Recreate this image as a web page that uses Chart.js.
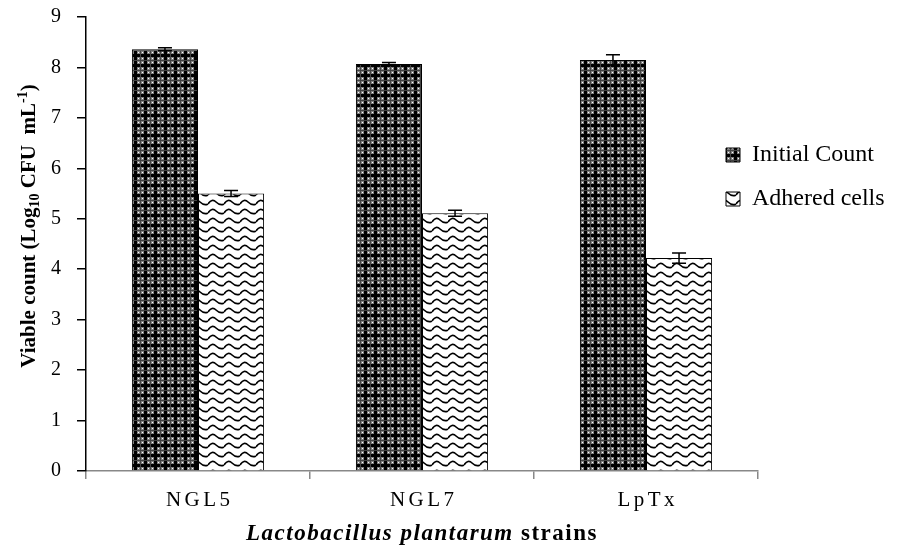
<!DOCTYPE html>
<html>
<head>
<meta charset="utf-8">
<script src="https://cdn.jsdelivr.net/npm/chart.js@4.4.0/dist/chart.umd.min.js"></script>
<style>
  html, body { margin: 0; padding: 0; background: #fff; }
  #wrap { width: 899px; height: 547px; }
</style>
</head>
<body>
<div id="wrap"><canvas id="barChart" width="899" height="547"></canvas></div>
<script>
const strains = ['NGL5', 'NGL7', 'LpTx'];
const initialCount = [8.36, 8.07, 8.15];
const initialErr = [0.03, 0.03, 0.10];
const adheredCells = [5.50, 5.11, 4.22];
const adheredErr = [0.06, 0.06, 0.10];
const yMax = 9;

const serif = '"Liberation Serif", "Times New Roman", serif';

function crossPattern(ctx) {
    const c = document.createElement('canvas');
    c.width = 10; c.height = 10;
    const p = c.getContext('2d');
    p.fillStyle = '#808080';
    p.fillRect(0, 0, 10, 10);
    p.fillStyle = '#000';
    p.fillRect(4, 1, 3, 9);
    p.fillRect(1, 4, 9, 3);
    p.fillStyle = '#444';
    p.fillRect(0, 0, 10, 1);
    p.fillRect(0, 0, 1, 10);
    p.fillStyle = '#fff';
    p.fillRect(2, 2, 1, 1);
    p.fillRect(8, 8, 1, 1);
    p.fillRect(2, 8, 1, 1);
    p.fillRect(8, 2, 1, 1);
    return ctx.createPattern(c, 'repeat');
}

function wavePattern(ctx) {
    const c = document.createElement('canvas');
    c.width = 16; c.height = 9;
    const p = c.getContext('2d');
    p.fillStyle = '#fff';
    p.fillRect(0, 0, 16, 9);
    p.strokeStyle = '#000';
    p.lineWidth = 1.6;
    p.beginPath();
    p.moveTo(0, 6);
    p.quadraticCurveTo(4, 0, 8, 4);
    p.quadraticCurveTo(12, 8, 16, 6);
    p.stroke();
    return ctx.createPattern(c, 'repeat');
}

const errorBars = {
    id: 'errorBars',
    afterDatasetsDraw(chart) {
        const ctx = chart.ctx;
        const yScale = chart.scales.y;
        const errs = [initialErr, adheredErr];
        ctx.save();
        ctx.strokeStyle = '#000';
        ctx.lineWidth = 1.5;
        chart.data.datasets.forEach((ds, di) => {
            chart.getDatasetMeta(di).data.forEach((bar, i) => {
                const v = ds.data[i];
                const yTop = yScale.getPixelForValue(v + errs[di][i]);
                const yBot = yScale.getPixelForValue(v - errs[di][i]);
                ctx.beginPath();
                ctx.moveTo(bar.x, yTop); ctx.lineTo(bar.x, yBot);
                ctx.moveTo(bar.x - 7, yTop); ctx.lineTo(bar.x + 7, yTop);
                ctx.moveTo(bar.x - 7, yBot); ctx.lineTo(bar.x + 7, yBot);
                ctx.stroke();
            });
        });
        ctx.restore();
    }
};

// legend sits at the right, partly over the plot area like the original
const legendPlace = {
    id: 'legendPlace',
    beforeLayout(chart) {
        const lg = chart.legend;
        if (lg && !lg._patched) {
            const orig = lg.fit.bind(lg);
            lg.fit = function() { orig(); this.width = 141; };
            lg._patched = true;
        }
    },
    afterLayout(chart) {
        chart.legend.left -= 52;
    }
};

function drawRich(ctx, parts) {
    let total = 0;
    parts.forEach(pt => {
        ctx.font = pt.f;
        ctx.letterSpacing = pt.ls || '0px';
        pt.w = ctx.measureText(pt.t).width;
        total += pt.w;
    });
    let x = -total / 2;
    parts.forEach(pt => {
        ctx.font = pt.f;
        ctx.letterSpacing = pt.ls || '0px';
        ctx.fillText(pt.t, x, pt.dy || 0);
        x += pt.w;
    });
    ctx.letterSpacing = '0px';
}

const axisTitles = {
    id: 'axisTitles',
    afterDraw(chart) {
        const ctx = chart.ctx;
        const area = chart.chartArea;
        ctx.save();
        ctx.fillStyle = '#000';
        ctx.textBaseline = 'alphabetic';
        ctx.textAlign = 'left';
        ctx.translate(35, 226);
        ctx.rotate(-Math.PI / 2);
        drawRich(ctx, [
            { t: 'Viable count (Log', f: 'bold 21px ' + serif },
            { t: '10', f: 'bold 14px ' + serif, dy: 4 },
            { t: ' CFU  mL', f: 'bold 21px ' + serif },
            { t: '-1', f: 'bold 14px ' + serif, dy: -8 },
            { t: ')', f: 'bold 21px ' + serif }
        ]);
        ctx.restore();

        ctx.save();
        ctx.fillStyle = '#000';
        ctx.textBaseline = 'alphabetic';
        ctx.textAlign = 'left';
        ctx.translate((area.left + area.right) / 2, 540);
        drawRich(ctx, [
            { t: 'Lactobacillus plantarum', f: 'italic bold 23px ' + serif, ls: '1.5px' },
            { t: ' strains', f: 'bold 23px ' + serif, ls: '1.5px' }
        ]);
        ctx.restore();
    }
};

const ctx = document.getElementById('barChart').getContext('2d');
new Chart(ctx, {
    type: 'bar',
    data: {
        labels: strains,
        datasets: [{
            label: 'Initial Count',
            data: initialCount,
            backgroundColor: crossPattern(ctx),
            borderColor: '#000',
            borderWidth: 1
        }, {
            label: 'Adhered cells',
            data: adheredCells,
            backgroundColor: wavePattern(ctx),
            borderColor: '#000',
            borderWidth: 1
        }]
    },
    options: {
        responsive: false,
        animation: false,
        events: [],
        layout: { padding: 0 },
        datasets: { bar: { categoryPercentage: 0.59, barPercentage: 1.0 } },
        scales: {
            x: {
                grid: { display: true, drawOnChartArea: false, offset: true, tickLength: 8, color: '#888', lineWidth: 1.5 },
                border: { color: '#888', width: 1.5 },
                ticks: {
                    color: '#000',
                    padding: 9,
                    font: { family: serif, size: 21 },
                    callback: function(v) { return this.getLabelForValue(v).split('').join('\u2006'); }
                },
                afterFit(scale) { scale.height = 76; scale.paddingTop = 0; }
            },
            y: {
                min: 0,
                max: yMax,
                grid: { display: true, drawOnChartArea: false, tickLength: 9, color: '#000', lineWidth: 1.5 },
                border: { color: '#000', width: 1.5 },
                ticks: {
                    stepSize: 1,
                    color: '#000',
                    padding: 16,
                    font: { family: serif, size: 20 }
                },
                afterFit(scale) { scale.width = 86; scale.paddingTop = 17; scale.paddingBottom = 0; }
            }
        },
        plugins: {
            legend: {
                position: 'right',
                align: 'start',
                title: { display: true, text: ' ', padding: { top: 111, bottom: 0 }, font: { size: 10 } },
                labels: {
                    color: '#000',
                    boxWidth: 14,
                    boxHeight: 14,
                    padding: 20,
                    font: { family: serif, size: 24 }
                }
            },
            tooltip: { enabled: false }
        }
    },
    plugins: [errorBars, legendPlace, axisTitles]
});
</script>
</body>
</html>
